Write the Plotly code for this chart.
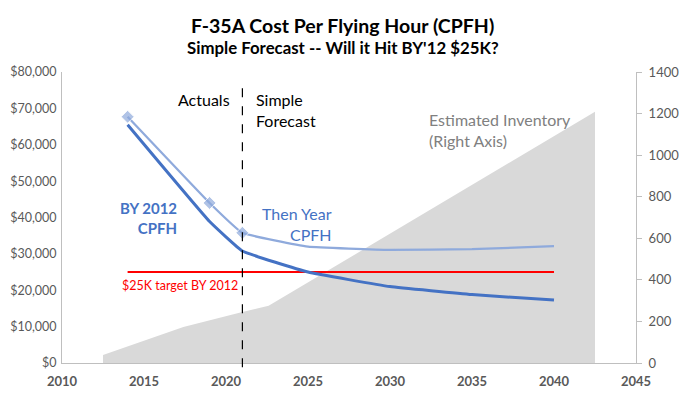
import plotly.graph_objects as go

# ---- data ----
years = [2014, 2019, 2021, 2025, 2030, 2035, 2040]
by2012_cpfh = [65500, 38900, 30800, 25000, 21000, 18800, 17300]
then_year_cpfh = [67700, 44000, 35800, 32000, 31100, 31300, 32100]
target_years = [2014, 2040]
target_values = [25000, 25000]
inv_years = [2012.5, 2017.4, 2021, 2022.6, 2042.5]
inventory = [38, 173, 245, 275, 1209]
x_ticks = [2010, 2015, 2020, 2025, 2030, 2035, 2040, 2045]
actuals_split_year = 2021

FONT = "Lato"
GRAY = "#595959"

fig = go.Figure()

# inventory area on primary (right side) axis so it is drawn beneath
fig.add_trace(go.Scatter(
    x=inv_years, y=inventory, yaxis="y", mode="lines",
    line=dict(width=0, color="#D9D9D9"), fill="tozeroy", fillcolor="#D9D9D9",
    hoverinfo="skip", showlegend=False))

fig.add_trace(go.Scatter(
    x=target_years, y=target_values, yaxis="y2", mode="lines",
    line=dict(color="#FF0000", width=2), showlegend=False))

fig.add_trace(go.Scatter(
    x=years, y=then_year_cpfh, yaxis="y2", mode="lines+markers",
    line=dict(color="#8FAADC", width=2.25, shape="spline", smoothing=0.3),
    marker=dict(symbol="diamond", size=[10, 10, 10, 0, 0, 0, 0], color="#8FAADC"),
    showlegend=False))

fig.add_trace(go.Scatter(
    x=years, y=by2012_cpfh, yaxis="y2", mode="lines",
    line=dict(color="#4472C4", width=3, shape="spline", smoothing=0.3),
    showlegend=False))

fig.add_shape(type="line", xref="x", yref="paper",
              x0=actuals_split_year, x1=actuals_split_year, y0=-0.015, y1=0.945,
              line=dict(color="black", width=1.2, dash="dash"))

anns = [
    dict(x=2020.37, y=72370, text="Actuals", xanchor="right", align="right",
         font=dict(size=16, color="black")),
    dict(x=2021.7, y=69490, text="Simple<br>Forecast", xanchor="left", align="left",
         font=dict(size=16, color="black")),
    dict(x=2017.13, y=39770, text="<b>BY 2012<br>CPFH</b>", xanchor="right", align="right",
         font=dict(size=15, color="#4472C4")),
    dict(x=2026.59, y=38250, text="Then Year<br>CPFH", xanchor="right", align="right",
         font=dict(size=16, color="#4472C4")),
    dict(x=2032.26, y=63980, text="Estimated Inventory<br>(Right Axis)", xanchor="left", align="left",
         font=dict(size=16, color="#808080")),
    dict(x=2017.2, y=21190, text="$25K target BY 2012", xanchor="center",
         font=dict(size=12.5, color="#FF0000")),
]
for a in anns:
    a.update(xref="x", yref="y2", showarrow=False, yanchor="middle", font_family=FONT)
    fig.add_annotation(**a)

fig.add_annotation(x=0.4895, y=1.1615, xref="paper", yref="paper", xanchor="center", yanchor="middle",
                   text="<b>F-35A Cost Per Flying Hour (CPFH)</b>", showarrow=False,
                   font=dict(family=FONT, size=19.5, color="black"))
fig.add_annotation(x=0.4895, y=1.0825, xref="paper", yref="paper", xanchor="center", yanchor="middle",
                   text="<b>Simple Forecast -- Will it Hit BY'12 $25K?</b>", showarrow=False,
                   font=dict(family=FONT, size=16.8, color="black"))

fig.update_layout(
    width=679, height=392,
    margin=dict(l=54, r=51, t=64, b=37, autoexpand=False),
    paper_bgcolor="white", plot_bgcolor="white",
    font=dict(family=FONT, color=GRAY, size=13),
    xaxis=dict(range=[2010, 2045], tickvals=x_ticks, ticktext=[f"<b>{t}</b>" for t in x_ticks],
               showgrid=False, zeroline=False, automargin=False,
               showline=True, linecolor="#BFBFBF", linewidth=1,
               tickfont=dict(size=13, color=GRAY, family=FONT), ticks="",
               ticklabelstandoff=6),
    yaxis=dict(range=[0, 1400], dtick=200, side="right", automargin=False,
               showgrid=False, zeroline=False, showline=True, linecolor="#BFBFBF",
               ticks="outside", ticklen=5, tickcolor="#BFBFBF",
               tickfont=dict(size=13, color=GRAY), ticklabelstandoff=4),
    yaxis2=dict(range=[0, 80000], dtick=10000, tickprefix="$", tickformat=",",
                overlaying="y", side="left", automargin=False,
                showgrid=False, zeroline=False, showline=True, linecolor="#BFBFBF",
                tickfont=dict(size=12.5, color=GRAY), ticks="", ticklabelstandoff=2),
)

fig.write_html("out.html")
